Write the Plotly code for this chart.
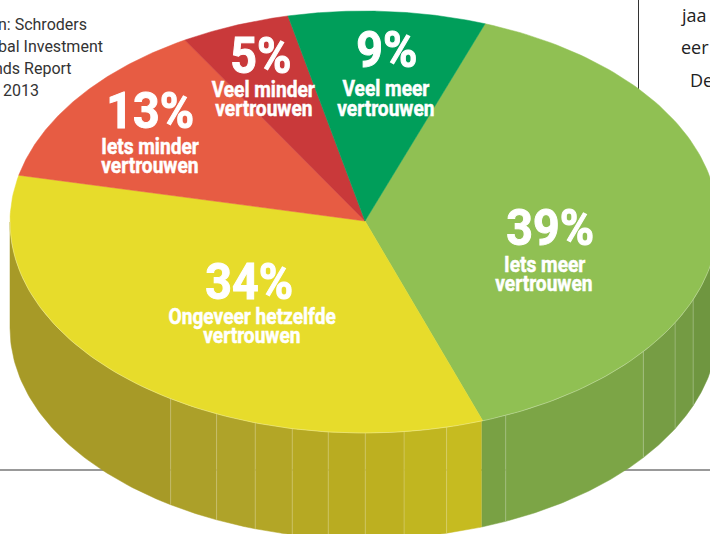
import numpy as np
import plotly.graph_objects as go

# Data, clockwise from the start angle
categories = ["Iets meer vertrouwen", "Ongeveer hetzelfde vertrouwen", "Iets minder vertrouwen",
              "Veel minder vertrouwen", "Veel meer vertrouwen"]
values = [39, 34, 13, 5, 9]
top_colors = ["#90C053", "#E7DC2B", "#E75C43", "#C9393A", "#009E5A"]
label_line1 = ["Iets meer", "Ongeveer hetzelfde", "Iets minder", "Veel minder", "Veel meer"]
label_line2 = ["vertrouwen"] * 5
pct_pos = [(550, 228), (249, 282), (150, 111), (261, 56), (387, 50)]
line1_pos = [(544, 264), (252, 316), (150, 146), (263, 89), (386, 88)]
line2_pos = [(544, 283), (252, 335), (150, 165), (264, 108), (386, 108)]

# Rim facets (degrees clockwise from top of the ellipse) and shades
facet_edges = [90, 111.6, 118.5, 127.9, 156.4, 160.6, 166.5, 173.5, 179.8, 185.8, 191.7, 197.9, 204.6, 213.1, 270]
facet_colors = ["#6F9640", "#749B43", "#769D44", "#7CA546", "#79A144", "#C6BB20", "#C1B620", "#BDB020",
                "#B9AC21", "#B6A923", "#B3A626", "#AFA329", "#ACA029", "#A79A27"]

source_lines = ["n: Schroders", "bal Investment", "nds Report", "2013"]
source_right = [89, 105, 74, 41]
source_y = [24, 46, 68, 90]
body_lines = ["jaa", "eer", "De"]
body_x = [679, 679, 688]
body_y = [15, 47, 80]

CX, CY, RX, RY, DEPTH = 364, 222, 354, 211, 106
START = 20.0


def ex(t):
    return CX + RX * np.sin(np.radians(t))


def ey(t):
    return CY - RY * np.cos(np.radians(t))


fig = go.Figure()

# Rim
for a, b, col in zip(facet_edges[:-1], facet_edges[1:], facet_colors):
    t = np.linspace(a, b, 60)
    xs = np.r_[ex(t), ex(t[::-1])]
    ys = np.r_[ey(t), ey(t[::-1]) + DEPTH]
    fig.add_trace(go.Scatter(x=xs, y=ys, mode="lines", fill="toself", fillcolor=col,
                             line=dict(color=col, width=0.5), hoverinfo="skip", showlegend=False))

# Rim seams
sx, sy = [], []
for e in facet_edges[1:-1]:
    if e == 160.6:
        continue
    sx += [ex(e), ex(e), None]
    sy += [ey(e), ey(e) + DEPTH, None]
fig.add_trace(go.Scatter(x=sx, y=sy, mode="lines", line=dict(color="rgba(255,255,255,0.22)", width=1),
                         hoverinfo="skip", showlegend=False))

# Top wedges
angle = START
for v, col, name in zip(values, top_colors, categories):
    span = v / sum(values) * 360
    t = np.linspace(angle, angle + span, 120)
    xs = np.r_[CX + 1, ex(t), CX + 1]
    ys = np.r_[CY - 1, ey(t), CY - 1]
    fig.add_trace(go.Scatter(x=xs, y=ys, mode="lines", fill="toself", fillcolor=col, name=name,
                             line=dict(color=col, width=0.5), hoverinfo="skip", showlegend=False))
    angle += span

# Pale edge of the top surface over the rim
t = np.linspace(90, 270, 200)
fig.add_trace(go.Scatter(x=ex(t), y=ey(t), mode="lines", line=dict(color="rgba(255,255,255,0.35)", width=0.8),
                         hoverinfo="skip", showlegend=False))

ann = []
HEAVY = "Roboto"
for v, p, l1, p1, l2, p2 in zip(values, pct_pos, label_line1, line1_pos, label_line2, line2_pos):
    ann.append(dict(x=p[0], y=p[1], text=f"{v}%", font=dict(family=HEAVY, size=50, color="white", weight=700)))
    ann.append(dict(x=p1[0], y=p1[1], text=l1, font=dict(family=HEAVY, size=22, color="white", weight=700)))
    ann.append(dict(x=p2[0], y=p2[1], text=l2, font=dict(family=HEAVY, size=22, color="white", weight=700)))
for s, xr, y in zip(source_lines, source_right, source_y):
    ann.append(dict(x=xr, y=y, text=s, xanchor="right", font=dict(family="Roboto", size=16, color="#333333")))
for s, x, y in zip(body_lines, body_x, body_y):
    ann.append(dict(x=x, y=y, text=s, xanchor="left", font=dict(family="Open Sans", size=18, color="#222222")))
for a in ann:
    a.update(xref="x", yref="y", showarrow=False)
    a.setdefault("xanchor", "center")
    a["yanchor"] = "middle"

fig.update_layout(
    width=710, height=534, margin=dict(l=0, r=0, t=0, b=0),
    paper_bgcolor="white", plot_bgcolor="white", showlegend=False,
    xaxis=dict(range=[0, 710], visible=False, fixedrange=True),
    yaxis=dict(range=[534, 0], visible=False, fixedrange=True),
    annotations=ann,
    shapes=[
        dict(type="line", x0=638.5, x1=638.5, y0=0, y1=92, line=dict(color="#333333", width=1), layer="below"),
        dict(type="line", x0=0, x1=710, y0=470, y1=470, line=dict(color="#777777", width=1.5), layer="below"),
    ],
)

# Page without its default margin; white labels condensed and thickened like the original's narrow face
post = """
document.body.style.margin = '0';
document.documentElement.style.overflow = 'hidden';
document.querySelectorAll('.annotation-text').forEach(function (t) {
  if ((t.style.fill || '').indexOf('255, 255, 255') < 0) return;
  var isPct = t.textContent.indexOf('%') >= 0;
  var w = t.getComputedTextLength();
  t.setAttribute('textLength', (w * (isPct ? 0.93 : 0.87)).toFixed(1));
  t.setAttribute('lengthAdjust', 'spacingAndGlyphs');
  t.style.stroke = 'white';
  t.style.strokeWidth = isPct ? '1px' : '0.5px';
});
"""
fig.write_html("out.html", config={"displayModeBar": False}, post_script=post)
